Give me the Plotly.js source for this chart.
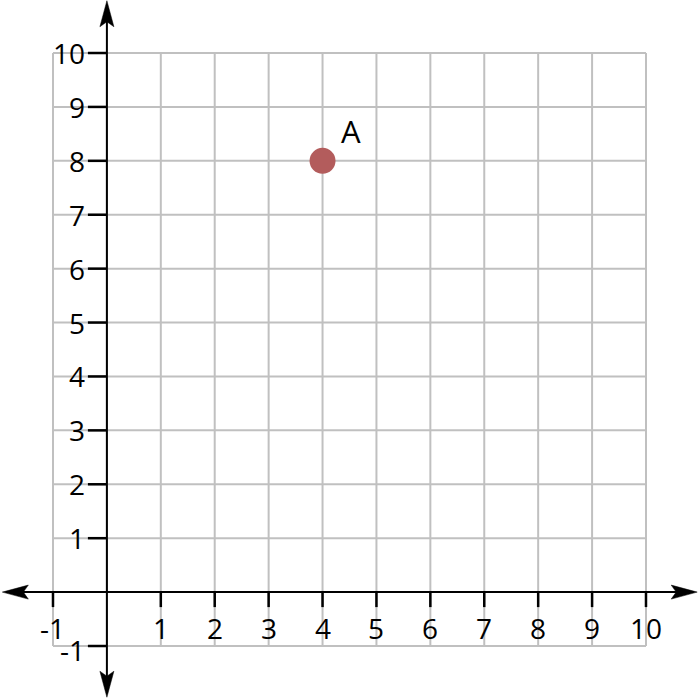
<!DOCTYPE html>
<html>
<head>
<meta charset="utf-8">
<script src="https://cdn.plot.ly/plotly-3.0.1.min.js"></script>
<style>html,body{margin:0;padding:0;background:#fff;}#chart{width:700px;height:700px;}</style>
</head>
<body>
<div id="chart"></div>
<script>
// Data
const xTicks = [-1, 1, 2, 3, 4, 5, 6, 7, 8, 9, 10];
const yTicks = [-1, 1, 2, 3, 4, 5, 6, 7, 8, 9, 10];
const gridX = [-1, 0, 1, 2, 3, 4, 5, 6, 7, 8, 9, 10];
const gridY = [-1, 0, 1, 2, 3, 4, 5, 6, 7, 8, 9, 10];
const pointX = [4];
const pointY = [8];
const pointLabels = ['A'];

const gridMin = -1, gridMax = 10;
const axisExtent = {xMin: -1.94, xMax: 10.95, yMin: -1.95, yMax: 10.97};
const FONT = {family: 'Open Sans, sans-serif', size: 28, color: '#000'};

const shapes = [];
gridX.forEach(v => shapes.push({type: 'line', xref: 'x', yref: 'y', x0: v, x1: v, y0: gridMin, y1: gridMax,
  line: {color: '#c0c0c0', width: 2}, layer: 'below'}));
gridY.forEach(v => shapes.push({type: 'line', xref: 'x', yref: 'y', y0: v, y1: v, x0: gridMin, x1: gridMax,
  line: {color: '#c0c0c0', width: 2}, layer: 'below'}));
// tick marks
xTicks.forEach(v => shapes.push({type: 'line', xref: 'x', yref: 'y', ysizemode: 'pixel', yanchor: 0,
  x0: v, x1: v, y0: 0, y1: -15, line: {color: '#000', width: 2.5}}));
yTicks.forEach(v => shapes.push({type: 'line', xref: 'x', yref: 'y', xsizemode: 'pixel', xanchor: 0,
  y0: v, y1: v, x0: 0, x1: -19, line: {color: '#000', width: 2.5}}));
// axis lines
shapes.push({type: 'line', xref: 'x', yref: 'y', x0: axisExtent.xMin + 0.2, x1: axisExtent.xMax - 0.2, y0: 0, y1: 0, line: {color: '#000', width: 2}});
shapes.push({type: 'line', xref: 'x', yref: 'y', y0: axisExtent.yMin + 0.2, y1: axisExtent.yMax - 0.2, x0: 0, x1: 0, line: {color: '#000', width: 2}});
// arrowheads (pixel-sized, anchored at axis ends)
const head = (ax, ay, path) => ({type: 'path', xref: 'x', yref: 'y', xsizemode: 'pixel', ysizemode: 'pixel',
  xanchor: ax, yanchor: ay, path: path, fillcolor: '#000', line: {color: '#000', width: 0.5}});
shapes.push(head(0, axisExtent.yMax, 'M0,0 L-7,-26 L0,-21 L7,-26 Z'));
shapes.push(head(0, axisExtent.yMin, 'M0,0 L-7,26 L0,21 L7,26 Z'));
shapes.push(head(axisExtent.xMax, 0, 'M0,0 L-26,-7 L-21,0 L-26,7 Z'));
shapes.push(head(axisExtent.xMin, 0, 'M0,0 L26,-7 L21,0 L26,7 Z'));

const annotations = [];
xTicks.forEach(v => annotations.push({xref: 'x', yref: 'y', x: v, y: 0, yshift: -36, text: String(v),
  showarrow: false, font: FONT, xanchor: 'center', yanchor: 'middle'}));
yTicks.forEach(v => annotations.push({xref: 'x', yref: 'y', x: 0, y: v, xshift: -20, yshift: v < 0 ? -4 : 0, text: String(v),
  showarrow: false, font: FONT, xanchor: 'right', yanchor: 'middle'}));
pointLabels.forEach((t, i) => annotations.push({xref: 'x', yref: 'y', x: pointX[i], y: pointY[i], xshift: 28, yshift: 30,
  text: t, showarrow: false, font: {family: 'Open Sans, sans-serif', size: 31, color: '#000'}}));

const traces = [{
  type: 'scatter', mode: 'markers', x: pointX, y: pointY,
  marker: {size: 26, color: '#b35c5c'}, hoverinfo: 'skip'
}];

const scale = 593 / 11;
const layout = {
  width: 700, height: 700,
  margin: {l: 0, r: 0, t: 0, b: 0, pad: 0},
  paper_bgcolor: '#fff', plot_bgcolor: '#fff',
  showlegend: false,
  xaxis: {range: [-106.9 / scale, (700 - 106.9) / scale], showgrid: false, zeroline: false, showticklabels: false, ticks: '', showline: false, fixedrange: true},
  yaxis: {range: [-(700 - 592.1) / scale, 592.1 / scale], showgrid: false, zeroline: false, showticklabels: false, ticks: '', showline: false, fixedrange: true},
  shapes: shapes,
  annotations: annotations
};

Plotly.newPlot('chart', traces, layout, {displayModeBar: false, staticPlot: true});
</script>
</body>
</html>
